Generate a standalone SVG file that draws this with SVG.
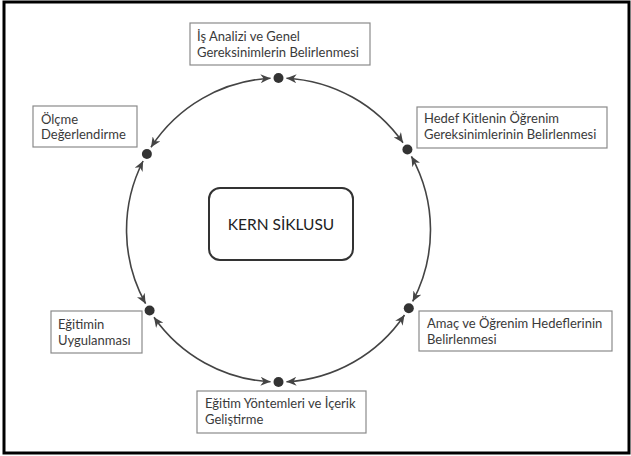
<svg xmlns="http://www.w3.org/2000/svg" width="631" height="456" viewBox="0 0 631 456">
<defs>
<style>
.box{fill:#fff;stroke:#8a8a8a;stroke-width:1.2}
.lbl{font-family:Lato,"Open Sans","Liberation Sans",sans-serif;font-size:13px;fill:#3a3a3a}
.title{font-family:Lato,"Open Sans","Liberation Sans",sans-serif;font-size:15.5px;fill:#222;text-anchor:middle}
.dot{fill:#333}
.arc{fill:none;stroke:#444;stroke-width:1.6;marker-start:url(#ah);marker-end:url(#ah)}
</style>
<marker id="ah" markerUnits="userSpaceOnUse" markerWidth="11" markerHeight="9" refX="10" refY="4.5" orient="auto-start-reverse" viewBox="0 0 11 9">
<path d="M0,0 L10,4.5 L0,9 L3,4.5 z" fill="#444"/>
</marker>
</defs>
<rect x="0" y="0" width="631" height="456" fill="#fff"/>
<rect x="4" y="2" width="625" height="451" fill="none" stroke="#000" stroke-width="3"/>

<g id="connectors">
<path class="arc" d="M286.45,78.2 A152,152 0 0 1 403.0,142.8"/>
<path class="arc" d="M411.4,156.3 A152,152 0 0 1 412.7,301.4"/>
<path class="arc" d="M404.5,315.0 A152,152 0 0 1 286.45,381.8"/>
<path class="arc" d="M270.55,381.8 A152,152 0 0 1 154.0,317.2"/>
<path class="arc" d="M145.6,303.7 A152,152 0 0 1 143.1,161.0"/>
<path class="arc" d="M151.0,147.2 A152,152 0 0 1 270.55,78.2"/>
</g>

<g id="center">
<rect x="209" y="188" width="144" height="72" rx="11" fill="#fff" stroke="#333" stroke-width="2"/>
<text class="title" x="281" y="230">KERN SİKLUSU</text>
</g>

<g id="n1">
<circle class="dot" cx="278.5" cy="78" r="5"/>
<rect class="box" x="190" y="23" width="180" height="42"/>
<text class="lbl" x="197" y="41">İş Analizi ve Genel</text>
<text class="lbl" x="197" y="57">Gereksinimlerin Belirlenmesi</text>
</g>

<g id="n2">
<circle class="dot" cx="407.4" cy="149.5" r="5"/>
<rect class="box" x="417" y="107" width="190" height="41"/>
<text class="lbl" x="424" y="123">Hedef Kitlenin Öğrenim</text>
<text class="lbl" x="424" y="139">Gereksinimlerinin Belirlenmesi</text>
</g>

<g id="n3">
<circle class="dot" cx="408.8" cy="308.3" r="5"/>
<rect class="box" x="419" y="311" width="193" height="40"/>
<text class="lbl" x="427" y="328">Amaç ve Öğrenim Hedeflerinin</text>
<text class="lbl" x="427" y="344">Belirlenmesi</text>
</g>

<g id="n4">
<circle class="dot" cx="278.5" cy="382" r="5"/>
<rect class="box" x="197" y="391" width="169" height="42"/>
<text class="lbl" x="205" y="408">Eğitim Yöntemleri ve İçerik</text>
<text class="lbl" x="205" y="424">Geliştirme</text>
</g>

<g id="n5">
<circle class="dot" cx="149.6" cy="310.5" r="5"/>
<rect class="box" x="51" y="311" width="91" height="42"/>
<text class="lbl" x="58" y="329">Eğitimin</text>
<text class="lbl" x="58" y="345">Uygulanması</text>
</g>

<g id="n6">
<circle class="dot" cx="146.9" cy="154" r="5"/>
<rect class="box" x="33" y="106" width="104" height="41"/>
<text class="lbl" x="41" y="124">Ölçme</text>
<text class="lbl" x="41" y="139">Değerlendirme</text>
</g>
</svg>
